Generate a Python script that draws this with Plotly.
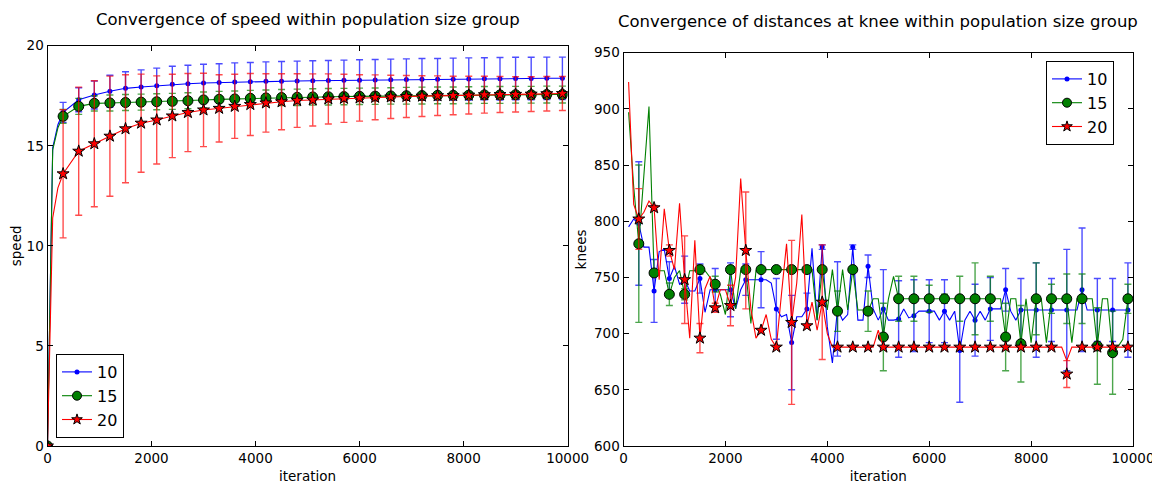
import plotly.graph_objects as go

# figure sits 8 px from the page's top-left corner (default body margin)
OX, OY = 8, 8
W, H = 1152, 477

# ---------------- Left panel: speed ----------------
speed_iter = list(range(0, 10000, 300))          # marker / error-bar iterations (0..9900)
speed_early_iter = [100, 200]                     # extra line samples in the steep start

speed_10 = [0, 16.67, 17.30, 17.54, 17.72, 17.87, 17.94, 18.00, 18.07, 18.10, 18.14,
            18.16, 18.19, 18.20, 18.22, 18.23, 18.24, 18.25, 18.26, 18.27, 18.28,
            18.29, 18.30, 18.31, 18.32, 18.32, 18.33, 18.34, 18.35, 18.35, 18.36,
            18.36, 18.37, 18.37]
speed_10_err = [0, 0.50, 0.60, 0.70, 0.80, 0.83, 0.85, 0.88, 0.90, 0.92, 0.93,
                0.94, 0.95, 0.96, 0.97, 0.98, 0.99, 1.00, 1.00, 1.01, 1.02,
                1.02, 1.03, 1.03, 1.04, 1.04, 1.05, 1.05, 1.05, 1.06, 1.06,
                1.06, 1.06, 1.06]
speed_10_early = [14.9, 16.05]

speed_15 = [0, 16.47, 16.97, 17.12, 17.14, 17.16, 17.18, 17.20, 17.22, 17.25, 17.29,
            17.32, 17.34, 17.37, 17.39, 17.41, 17.42, 17.44, 17.45, 17.46, 17.47,
            17.48, 17.49, 17.50, 17.51, 17.52, 17.52, 17.53, 17.54, 17.54, 17.55,
            17.55, 17.56, 17.56]
speed_15_err = [0, 0.35, 0.40, 0.38, 0.40, 0.40, 0.40, 0.40, 0.40, 0.40, 0.40,
                0.40, 0.40, 0.40, 0.40, 0.40, 0.41, 0.41, 0.41, 0.41, 0.41,
                0.41, 0.41, 0.42, 0.42, 0.42, 0.42, 0.42, 0.42, 0.42, 0.42,
                0.42, 0.42, 0.42]
speed_15_early = [14.8, 15.9]

speed_20 = [0, 13.60, 14.73, 15.10, 15.48, 15.85, 16.13, 16.29, 16.49, 16.66, 16.79,
            16.87, 16.97, 17.06, 17.14, 17.20, 17.26, 17.29, 17.34, 17.37, 17.39,
            17.42, 17.44, 17.46, 17.48, 17.50, 17.51, 17.53, 17.55, 17.56, 17.57,
            17.58, 17.60, 17.61]
speed_20_err = [0, 3.20, 3.20, 3.15, 3.00, 2.70, 2.45, 2.20, 2.08, 1.95, 1.83,
                1.68, 1.60, 1.55, 1.46, 1.40, 1.34, 1.30, 1.25, 1.20, 1.16,
                1.12, 1.08, 1.05, 1.02, 0.99, 0.96, 0.94, 0.92, 0.90, 0.88,
                0.87, 0.86, 0.85]
speed_20_early = [11.4, 12.9]

# ---------------- Right panel: knees ----------------
knee_iter_line = list(range(100, 10000, 100))    # 100..9900
knee_iter_mark = list(range(300, 10000, 300))    # 300..9900

knee_10_line = [795, 802, 798, 777, 777, 738, 773, 775, 749, 760,
                744, 748, 738, 738, 749, 719, 739, 739, 739, 739,
                739, 722, 739, 748, 748, 748, 748, 748, 745, 722,
                715, 717, 692, 715, 715, 722, 776, 712, 777, 706,
                674, 722, 712, 717, 777, 712, 712, 760, 722, 712,
                722, 712, 712, 713, 722, 714, 716, 720, 720, 720,
                720, 712, 720, 712, 720, 685, 712, 720, 712, 720,
                712, 722, 722, 722, 739, 720, 712, 721, 721, 721,
                721, 721, 721, 721, 721, 721, 721, 721, 721, 739,
                721, 721, 721, 721, 721, 721, 721, 721, 721]
knee_15_line = [897, 831, 780, 841, 902, 754, 756, 756, 735, 750,
                756, 735, 756, 756, 757, 756, 750, 744, 735, 717,
                757, 722, 756, 757, 709, 756, 757, 757, 757, 757,
                757, 757, 757, 757, 757, 757, 757, 712, 757, 721,
                757, 720, 757, 721, 757, 721, 721, 720, 731, 731,
                697, 731, 751, 731, 731, 731, 731, 731, 731, 731,
                731, 731, 731, 731, 731, 731, 731, 731, 731, 731,
                731, 731, 731, 731, 697, 731, 731, 691, 731, 692,
                731, 731, 692, 731, 731, 731, 731, 692, 731, 731,
                731, 731, 689, 731, 731, 683, 688, 695, 731]
knee_20_line = [924, 815, 802, 808, 818, 812, 748, 811, 774, 757,
                816, 748, 696, 783, 696, 740, 751, 723, 739, 739,
                725, 750, 838, 774, 722, 696, 703, 717, 695, 688,
                735, 780, 710, 745, 806, 707, 728, 703, 728, 700,
                688, 688, 688, 688, 688, 688, 688, 688, 688, 703,
                688, 688, 688, 688, 688, 688, 688, 688, 688, 688,
                688, 688, 688, 688, 688, 688, 688, 688, 688, 688,
                688, 688, 688, 688, 688, 688, 688, 688, 688, 688,
                688, 688, 688, 688, 688, 688, 676, 688, 688, 688,
                688, 688, 688, 688, 688, 688, 688, 688, 688]

knee_10_mark = [798, 738, 749, 748, 749, 739, 739, 748, 748, 722, 692,
                722, 777, 722, 777, 760, 722, 713, 716, 720, 720, 685,
                712, 722, 739, 721, 721, 721, 721, 739, 721, 721, 721]
knee_10_err = [55, 28, 15, 21, 13, 19, 24, 14, 25, 27, 42,
               14, 2, 42, 2, 10, 35, 34, 32, 28, 28, 46,
               32, 28, 19, 28, 42, 28, 54, 55, 28, 28, 42]
knee_15_mark = [780, 754, 735, 735, 757, 744, 757, 757, 757, 757, 757,
                757, 757, 720, 757, 720, 697, 731, 731, 731, 731, 731,
                731, 731, 697, 691, 731, 731, 731, 731, 689, 683, 731]
knee_15_err = [70, 2, 10, 5, 4, 7, 2, 2, 0, 0, 0,
               0, 0, 18, 0, 18, 30, 20, 20, 12, 4, 20,
               32, 20, 30, 34, 32, 13, 22, 22, 34, 37, 13]
knee_20_mark = [802, 812, 774, 748, 696, 723, 725, 774, 703, 688, 710,
                707, 728, 688, 688, 688, 688, 688, 688, 688, 688, 688,
                688, 688, 688, 688, 688, 688, 664, 688, 688, 688, 688]
knee_20_err = [27, 2, 5, 39, 13, 4, 18, 52, 0, 0, 73,
               0, 51, 0, 0, 0, 0, 0, 0, 0, 0, 0,
               0, 0, 0, 0, 0, 0, 12, 0, 0, 0, 0]

series_names = ["10", "15", "20"]
x_ticks = [0, 2000, 4000, 6000, 8000, 10000]
x_tick_labels = ["0", "2000", "4000", "6000", "8000", "10000"]


def fx(px):
    return (px - OX) / W


def fy(py):
    return (H - (py - OY)) / H


# ---------------- styles ----------------
STY = {
    "10": dict(color="#0000ff", err="rgba(0,0,255,0.7)", symbol="circle", size=5,
               edge="#0000ff", edgew=0, lsize=5),
    "15": dict(color="#008000", err="rgba(0,128,0,0.7)", symbol="circle", size=10,
               edge="black", edgew=1, lsize=9),
    "20": dict(color="#ff0000", err="rgba(255,0,0,0.7)", symbol="star", size=9,
               edge="black", edgew=1, lsize=8),
}

fig = go.Figure()


def add_series(name, lx, ly, mx, my, me, xa, ya, legend):
    s = STY[name]
    fig.add_trace(go.Scatter(x=lx, y=ly, mode="lines", xaxis=xa, yaxis=ya,
                             line=dict(color=s["color"], width=1.1),
                             showlegend=False, hoverinfo="skip"))
    fig.add_trace(go.Scatter(x=mx, y=my, mode="markers", xaxis=xa, yaxis=ya,
                             marker=dict(color=s["color"], symbol=s["symbol"], size=s["size"],
                                         line=dict(color=s["edge"], width=s["edgew"])),
                             error_y=dict(type="data", array=me, visible=True,
                                          color=s["err"], thickness=1.4, width=3.5),
                             showlegend=False))
    # legend entry (line + marker), no data points of its own
    fig.add_trace(go.Scatter(x=[None], y=[None], mode="lines+markers", name=name,
                             xaxis=xa, yaxis=ya, legend=legend,
                             line=dict(color=s["color"], width=1.1),
                             marker=dict(color=s["color"], symbol=s["symbol"], size=s["lsize"],
                                         line=dict(color=s["edge"], width=s["edgew"]))))


left_data = {
    "10": (speed_10, speed_10_err, speed_10_early),
    "15": (speed_15, speed_15_err, speed_15_early),
    "20": (speed_20, speed_20_err, speed_20_early),
}
for nm in series_names:
    vals, errs, early = left_data[nm]
    lx = [speed_iter[0]] + speed_early_iter + speed_iter[1:]
    ly = [vals[0]] + early + vals[1:]
    add_series(nm, lx, ly, speed_iter, vals, errs, "x", "y", "legend")

right_data = {
    "10": (knee_10_line, knee_10_mark, knee_10_err),
    "15": (knee_15_line, knee_15_mark, knee_15_err),
    "20": (knee_20_line, knee_20_mark, knee_20_err),
}
for nm in series_names:
    line_v, mark_v, err_v = right_data[nm]
    add_series(nm, knee_iter_line, line_v, knee_iter_mark, mark_v, err_v, "x2", "y2", "legend2")

axis_common = dict(showline=True, linecolor="black", linewidth=1, mirror="allticks",
                   ticks="inside", ticklen=5, tickcolor="black", showgrid=False,
                   zeroline=False, tickfont=dict(size=13.5, color="black"),
                   automargin=False)

fig.update_layout(
    width=W, height=H,
    margin=dict(l=0, r=0, t=0, b=0),
    paper_bgcolor="white", plot_bgcolor="white",
    font=dict(family="DejaVu Sans", size=13.5, color="black"),
    xaxis=dict(domain=[fx(47.5), fx(567.6)], range=[0, 10000], tickvals=x_ticks,
               ticktext=x_tick_labels, anchor="y",
               title=dict(text="iteration", standoff=6, font=dict(size=13.5)),
               **axis_common),
    yaxis=dict(domain=[fy(446), fy(45.7)], range=[0, 20],
               tickvals=[0, 5, 10, 15, 20], anchor="x",
               title=dict(text="speed", standoff=9, font=dict(size=13.5)), **axis_common),
    xaxis2=dict(domain=[fx(623.5), fx(1133)], range=[0, 10000], tickvals=x_ticks,
                ticktext=x_tick_labels, anchor="y2",
                title=dict(text="iteration", standoff=6, font=dict(size=13.5)),
                **axis_common),
    yaxis2=dict(domain=[fy(446), fy(52.7)], range=[600, 950],
                tickvals=[600, 650, 700, 750, 800, 850, 900, 950], anchor="x2",
                title=dict(text="knees", standoff=4, font=dict(size=13.5)), **axis_common),
    legend=dict(x=fx(56), y=fy(438), xanchor="left", yanchor="bottom",
                bgcolor="white", bordercolor="black", borderwidth=1,
                font=dict(size=16, color="black"), tracegroupgap=0, itemwidth=30),
    legend2=dict(x=fx(1046), y=fy(61), xanchor="left", yanchor="top",
                 bgcolor="white", bordercolor="black", borderwidth=1,
                 font=dict(size=16, color="black"), tracegroupgap=0, itemwidth=30),
    annotations=[
        dict(text="Convergence of speed within population size group", xref="paper",
             yref="paper", x=fx((47.5 + 567.6) / 2), y=1.0, showarrow=False,
             xanchor="center", yanchor="top", font=dict(size=16.5, color="black")),
        dict(text="Convergence of distances at knee within population size group",
             xref="paper", yref="paper", x=fx((623.5 + 1133) / 2), y=fy(21),
             showarrow=False, xanchor="center", yanchor="middle",
             font=dict(size=16.5, color="black")),
    ],
)

fig.write_html("out.html")
